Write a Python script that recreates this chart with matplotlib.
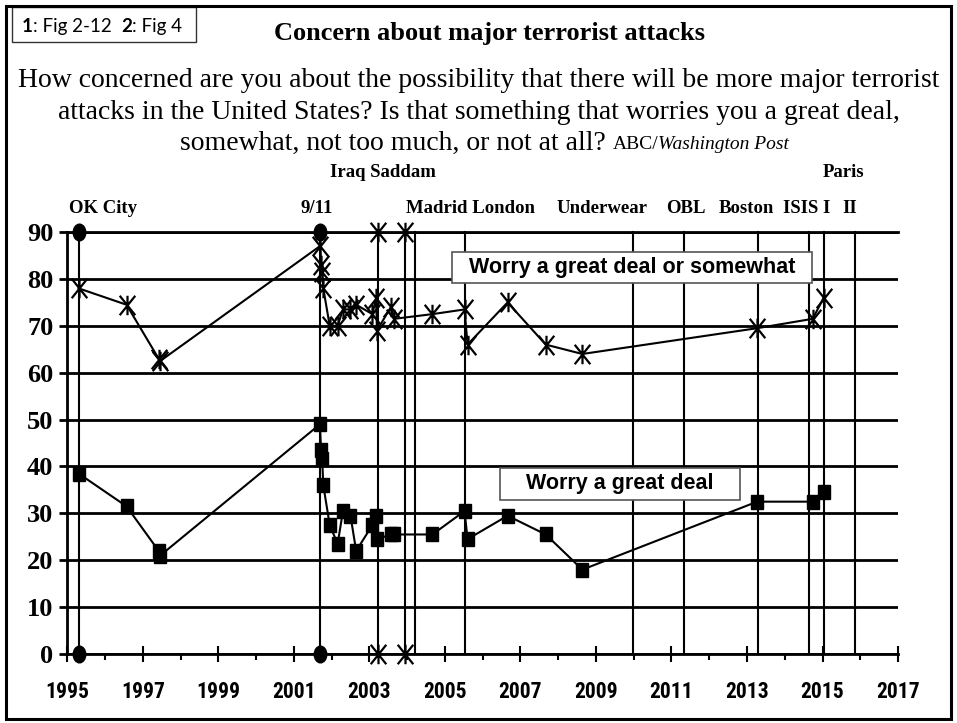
import matplotlib
matplotlib.use("Agg")
import matplotlib.pyplot as plt
from matplotlib.path import Path
from matplotlib.markers import MarkerStyle
from matplotlib.transforms import Affine2D
from matplotlib.patches import Rectangle

# survey dates (decimal years) shared by both series
survey_dates = [1995.30, 1996.57, 1997.42, 1997.46, 2001.69, 2001.72, 2001.75, 2001.78,
                2001.95, 2002.16, 2002.30, 2002.50, 2002.65, 2003.08, 2003.18, 2003.20,
                2003.57, 2003.66, 2004.67, 2005.52, 2005.60, 2006.66, 2007.67, 2008.64,
                2013.27, 2014.74, 2015.03]
worry_any = [78, 74.5, 63, 62.5, 87, 83, 81.5, 78,
             70, 70, 73.5, 73.5, 74.5, 72.5, 76, 69,
             74, 71.5, 72.5, 73.5, 66, 75, 66, 64,
             69.5, 71.5, 76]
worry_great = [38.5, 31.5, 22, 21, 49, 43.5, 41.5, 36,
               27.5, 23.5, 30.5, 29.5, 22, 27.5, 29.5, 24.5,
               25.5, 25.5, 25.5, 30.5, 24.5, 29.5, 25.5, 18,
               32.5, 32.5, 34.5]

event_names = ["OK City", "9/11", "Iraq", "Saddam", "Madrid", "London",
               "Underwear", "OBL", "Boston", "ISIS", "Paris I", "Paris II"]
event_dates = [1995.30, 2001.70, 2003.22, 2003.95, 2004.20, 2005.52,
               2009.98, 2011.34, 2013.30, 2014.64, 2015.03, 2015.87]

x_ticks = list(range(1995, 2018, 2))
y_ticks = list(range(0, 91, 10))

title = "Concern about major terrorist attacks"
question = ["How concerned are you about the possibility that there will be more major terrorist",
            "attacks in the United States? Is that something that worries you a great deal,"]
question_end = "somewhat, not too much, or not at all? "

SERIF = "Liberation Serif"
NARROW = ["Roboto Condensed", "Open Sans Condensed", "Liberation Sans Narrow", "Liberation Sans"]

star = Path([(-0.4, -0.5), (0.4, 0.5), (-0.4, 0.5), (0.4, -0.5), (0, -0.5), (0, 0.5)],
            [Path.MOVETO, Path.LINETO] * 3)
oval = MarkerStyle("o", transform=Affine2D().scale(0.75, 1.0))
tall_square = MarkerStyle("s", transform=Affine2D().scale(0.9, 1.1))

fig = plt.figure(figsize=(9.57, 7.23), dpi=100)
ax = fig.add_axes([0.0703, 0.0954, 0.8681, 0.5836])

# event lines
circle_events = {"OK City", "9/11"}
star_events = {"Iraq", "Saddam"}
for name, d in zip(event_names, event_dates):
    ax.plot([d, d], [0, 90], color="black", lw=1.5, zorder=2, clip_on=False)
    if name in circle_events:
        ax.plot([d, d], [0, 90], ls="none", marker=oval, ms=12, color="black",
                zorder=5, clip_on=False)
    elif name in star_events:
        ax.plot([d, d], [0, 90], ls="none", marker=star, ms=14, mew=1.6,
                color="black", zorder=5, clip_on=False)

ax.plot(survey_dates, worry_any, color="black", lw=1.5, marker=star, ms=14,
        mew=1.6, zorder=4, clip_on=False)
ax.plot(survey_dates, worry_great, color="black", lw=1.5, marker=tall_square,
        ms=9, zorder=4, clip_on=False)

ax.set_xlim(1995, 2017)
ax.set_ylim(0, 90)
ax.set_xticks(x_ticks)
ax.set_xticks(list(range(1996, 2017, 2)), minor=True)
ax.set_yticks(y_ticks)
ax.yaxis.grid(True, color="black", lw=2)
ax.set_axisbelow(True)
for side in ["left", "top", "bottom"]:
    ax.spines[side].set_linewidth(2)
ax.spines["right"].set_visible(False)
ax.tick_params(axis="y", direction="out", length=6, width=2, pad=4)
ax.tick_params(axis="x", which="major", direction="inout", length=11, width=1.5, pad=14)
ax.tick_params(axis="x", which="minor", direction="out", length=4, width=1.5)
for lab in ax.get_yticklabels():
    lab.set_fontfamily(SERIF)
    lab.set_fontweight("bold")
    lab.set_fontsize(19)
for lab in ax.get_xticklabels():
    lab.set_fontfamily(NARROW)
    lab.set_fontweight("bold")
    lab.set_fontsize(15.5)

# event labels above the plot
lower_row = [("OK City", 1995.94), ("9/11", 2001.60), ("Madrid London", 2005.68),
             ("Underwear", 2009.15), ("OBL", 2011.39), ("Boston", 2012.98),
             ("ISIS I", 2014.57), ("II", 2015.73)]
upper_row = [("Iraq Saddam", 2003.35), ("Paris", 2015.55)]
for txt, x in lower_row:
    ax.text(x, 95.1, txt, ha="center", va="center", fontsize=13.5, fontweight="bold",
            family=SERIF, clip_on=False)
for txt, x in upper_row:
    ax.text(x, 102.8, txt, ha="center", va="center", fontsize=13.5, fontweight="bold",
            family=SERIF, clip_on=False)

# series boxes
for (x0, y0, x1, y1), txt in [((0.463, 0.879, 0.8965, 0.9526), "Worry a great deal or somewhat"),
                              ((0.521, 0.365, 0.8098, 0.4415), "Worry a great deal")]:
    ax.add_patch(Rectangle((x0, y0), x1 - x0, y1 - y0, transform=ax.transAxes,
                           facecolor="white", edgecolor="#555555", lw=1.2,
                           zorder=6, clip_on=False))
    ax.text((x0 + x1) / 2, (y0 + y1) / 2, txt, transform=ax.transAxes, ha="center",
            va="center", fontsize=15.5, fontweight="bold", family="Liberation Sans", zorder=7)

# headings
fig.text(0.512, 0.954, title, ha="center", va="center", fontsize=19,
         fontweight="bold", family=SERIF)
for i, line in enumerate(question):
    fig.text(0.5, 0.889 - i * 0.044, line, ha="center", va="center", fontsize=20,
             family=SERIF)
t = fig.text(0.188, 0.802, question_end, ha="left", va="center", fontsize=20, family=SERIF)
t = ax.annotate("ABC/", xy=(1, 0.12), xycoords=t, ha="left", va="bottom",
                fontsize=14, family=SERIF, annotation_clip=False)
ax.annotate("Washington Post", xy=(1, 0), xycoords=t, ha="left", va="bottom",
            fontsize=14, family=SERIF, style="italic", annotation_clip=False)

# figure reference box
fig.patches.append(Rectangle((0.0125, 0.9419), 0.1923, 0.0484, transform=fig.transFigure,
                             facecolor="none", edgecolor="#333333", lw=1))
t = fig.text(0.0227, 0.9627, "1", ha="left", va="center", fontsize=13.5,
             fontweight="bold", family="Lato")
for piece, bold in [(": Fig 2-12  ", False), ("2", True), (": Fig 4", False)]:
    t = ax.annotate(piece, xy=(1, 0), xycoords=t, ha="left", va="bottom", fontsize=13.5,
                    fontweight="bold" if bold else "normal", family="Lato",
                    annotation_clip=False)

# outer frame
fig.patches.append(Rectangle((0.00575, 0.0062), 0.988, 0.986, transform=fig.transFigure,
                             facecolor="none", edgecolor="black", lw=2.2))

fig.savefig("out.png", dpi=100)
